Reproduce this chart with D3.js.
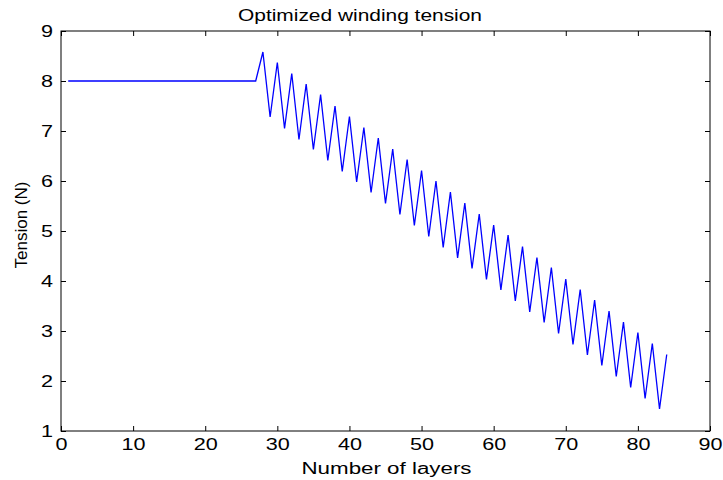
<!DOCTYPE html>
<html>
<head>
<meta charset="utf-8">
<script src="https://cdn.jsdelivr.net/npm/d3@7"></script>
<style>
  body { margin: 0; background: #fff; }
  svg { display: block; }
  text { font-family: "Liberation Sans", Arial, Helvetica, sans-serif; fill: #000; }
</style>
</head>
<body>
<svg id="chart" width="723" height="480"></svg>
<script>
// Winding tension per layer (N), layers 1..84
const layers = d3.range(1, 85);
const flatTension = [8, 8, 8, 8, 8, 8, 8, 8, 8, 8, 8, 8, 8, 8, 8, 8, 8, 8, 8, 8, 8, 8, 8, 8, 8, 8, 8];
const peakTension = [8.58, 8.37, 8.15, 7.94, 7.73, 7.50, 7.29, 7.07, 6.86, 6.64, 6.43, 6.21, 6.00, 5.78,
                     5.56, 5.34, 5.12, 4.92, 4.69, 4.47, 4.27, 4.04, 3.83, 3.62, 3.40, 3.18, 2.97, 2.75, 2.53];
const troughTension = [7.28, 7.05, 6.83, 6.63, 6.41, 6.19, 5.98, 5.77, 5.55, 5.33, 5.11, 4.89, 4.67, 4.46,
                       4.25, 4.03, 3.82, 3.60, 3.38, 3.17, 2.95, 2.73, 2.52, 2.31, 2.09, 1.87, 1.65, 1.44];
const xTicks = d3.range(0, 91, 10);
const yTicks = d3.range(1, 10, 1);

// Layers 28..84 alternate between a peak (even layer) and a trough (odd layer)
const tension = flatTension.slice();
for (let i = 0; i < peakTension.length; i++) {
  tension.push(peakTension[i]);
  if (i < troughTension.length) tension.push(troughTension[i]);
}
const data = layers.map((l, i) => ({ layer: l, value: tension[i] }));

const svg = d3.select("#chart");
const plot = { left: 61, right: 710, top: 31, bottom: 431 };
const wide = 1.35; // horizontal stretch of the label face

const x = d3.scaleLinear().domain([0, 90]).range([plot.left, plot.right]);
const y = d3.scaleLinear().domain([1, 9]).range([plot.bottom, plot.top]);

const tickLen = 5;
const axisG = svg.append("g");

// Frame
axisG.append("rect")
  .attr("x", plot.left).attr("y", plot.top)
  .attr("width", plot.right - plot.left).attr("height", plot.bottom - plot.top)
  .attr("fill", "none").attr("stroke", "#000").attr("stroke-width", 1);

// Inward ticks on all four sides
const bottomAxis = d3.axisBottom(x).tickValues(xTicks).tickSize(-tickLen).tickPadding(8).tickFormat(d3.format("d"));
const topAxis = d3.axisTop(x).tickValues(xTicks).tickSize(-tickLen).tickFormat("");
const leftAxis = d3.axisLeft(y).tickValues(yTicks).tickSize(-tickLen).tickFormat(d3.format("d"));
const rightAxis = d3.axisRight(y).tickValues(yTicks).tickSize(-tickLen).tickFormat("");

function styleAxis(g) {
  g.select(".domain").remove();
  g.selectAll(".tick line").attr("stroke", "#000");
  g.selectAll(".tick text").attr("font-size", 16).attr("font-family", "Liberation Sans, Arial, sans-serif");
}

axisG.append("g").attr("transform", `translate(0,${plot.bottom})`).call(bottomAxis).call(styleAxis)
  .selectAll(".tick text").attr("transform", `scale(${wide},1)`);
axisG.append("g").attr("transform", `translate(0,${plot.top})`).call(topAxis).call(styleAxis);
axisG.append("g").attr("transform", `translate(${plot.left},0)`).call(leftAxis).call(styleAxis)
  .selectAll(".tick text").attr("x", 0).attr("transform", `translate(-8,0) scale(${wide},1)`);
axisG.append("g").attr("transform", `translate(${plot.right},0)`).call(rightAxis).call(styleAxis);

// Tension curve
const line = d3.line().x(d => x(d.layer)).y(d => y(d.value));
svg.append("path")
  .datum(data)
  .attr("d", line)
  .attr("fill", "none")
  .attr("stroke", "#0000ff")
  .attr("stroke-width", 1.3);

// Titles
svg.append("text")
  .attr("x", 360).attr("y", 20.5)
  .attr("text-anchor", "middle").attr("font-size", 16)
  .attr("textLength", 244).attr("lengthAdjust", "spacingAndGlyphs")
  .text("Optimized winding tension");

svg.append("text")
  .attr("x", 386.5).attr("y", 473.5)
  .attr("text-anchor", "middle").attr("font-size", 16)
  .attr("textLength", 170).attr("lengthAdjust", "spacingAndGlyphs")
  .text("Number of layers");

svg.append("text")
  .attr("transform", `translate(26.5,225) rotate(-90)`)
  .attr("text-anchor", "middle").attr("font-size", 16)
  .attr("textLength", 87).attr("lengthAdjust", "spacingAndGlyphs")
  .text("Tension (N)");
</script>
</body>
</html>
